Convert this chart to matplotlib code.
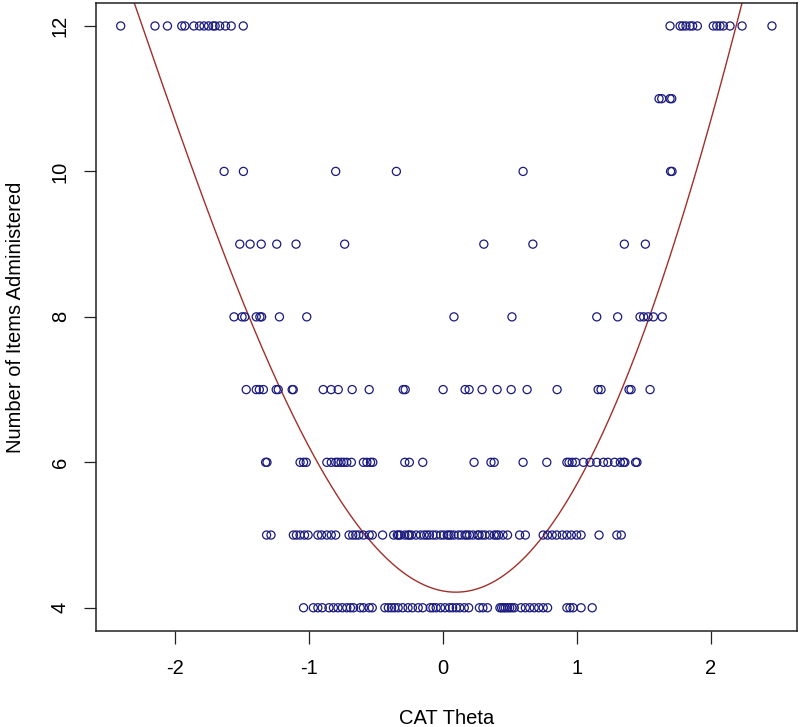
import numpy as np
import matplotlib
matplotlib.use("Agg")
import matplotlib.pyplot as plt

# CAT theta estimates, grouped by number of items administered
theta_4 = [-1.040, -0.967, -0.933, -0.900, -0.850, -0.817, -0.783, -0.750, -0.717, -0.690,
           -0.667, -0.617, -0.593, -0.550, -0.527, -0.433, -0.407, -0.383, -0.360, -0.334,
           -0.300, -0.260, -0.227, -0.184, -0.150, -0.094, -0.074, -0.050, -0.017, 0.016,
           0.050, 0.073, 0.100, 0.126, 0.160, 0.193, 0.273, 0.299, 0.333, 0.426,
           0.439, 0.453, 0.466, 0.483, 0.499, 0.516, 0.533, 0.583, 0.616, 0.649,
           0.682, 0.716, 0.749, 0.782, 0.926, 0.949, 0.972, 1.032, 1.115]
theta_5 = [-1.316, -1.283, -1.116, -1.093, -1.066, -1.033, -1.006, -0.933, -0.906, -0.866,
           -0.833, -0.800, -0.700, -0.673, -0.650, -0.627, -0.593, -0.550, -0.527, -0.450,
           -0.367, -0.340, -0.317, -0.284, -0.260, -0.234, -0.200, -0.167, -0.140, -0.100,
           -0.074, -0.050, -0.017, 0.006, 0.033, 0.060, 0.083, 0.116, 0.139, 0.166,
           0.199, 0.226, 0.259, 0.293, 0.316, 0.349, 0.383, 0.416, 0.449, 0.483,
           0.573, 0.616, 0.749, 0.782, 0.816, 0.849, 0.892, 0.926, 0.959, 0.999,
           1.032, 1.166, 1.299, 1.332, -0.330, -0.250, -0.120, 0.045, 0.180, 0.270, 0.400]
theta_6 = [-1.323, -1.313, -1.066, -1.040, -1.020, -0.866, -0.833, -0.800, -0.783, -0.760,
           -0.740, -0.717, -0.683, -0.593, -0.567, -0.540, -0.523, -0.284, -0.250, -0.150,
           0.233, 0.359, 0.383, 0.599, 0.776, 0.926, 0.942, 0.966, 0.992, 1.049,
           1.099, 1.149, 1.199, 1.232, 1.282, 1.325, 1.349, 1.359, 1.439, 1.449]
theta_7 = [-1.468, -1.393, -1.370, -1.340, -1.244, -1.229, -1.125, -1.117, -0.893, -0.834,
           -0.781, -0.677, -0.550, -0.296, -0.281, 0.002, 0.166, 0.196, 0.293, 0.405,
           0.510, 0.629, 0.853, 1.159, 1.181, 1.390, 1.405, 1.547]
theta_8 = [-1.559, -1.499, -1.479, -1.393, -1.366, -1.353, -1.220, -1.016, 0.083, 0.516,
           1.149, 1.305, 1.472, 1.499, 1.532, 1.572, 1.638]
theta_9 = [-1.516, -1.439, -1.356, -1.240, -1.096, -0.733, 0.306, 0.672, 1.355, 1.512]
theta_10 = [-1.633, -1.489, -0.800, -0.347, 0.599, 1.700, 1.711]
theta_11 = [1.614, 1.634, 1.696, 1.709]
theta_12 = [-2.405, -2.149, -2.056, -1.949, -1.926, -1.859, -1.816, -1.783, -1.749, -1.716,
            -1.700, -1.666, -1.623, -1.580, -1.490,
            1.696, 1.771, 1.791, 1.815, 1.845, 1.865, 1.900, 2.019, 2.045, 2.069,
            2.094, 2.144, 2.234, 2.457]

# points traced along the fitted (red) curve
curve_x = [-2.31, -2.25, -1.84, -1.61, -1.45, -1.27, -0.98, -0.655, -0.505, -0.343, -0.12,
           0.10, 0.328, 0.577, 0.714, 0.813, 1.114, 1.34, 1.547, 1.666, 1.828, 2.03, 2.21, 2.26]
curve_y = [12.32, 12.0, 10.0, 9.0, 8.0, 7.0, 6.0, 5.0, 4.748, 4.518, 4.336,
           4.27, 4.336, 4.518, 4.748, 5.0, 6.0, 7.0, 8.0, 9.0, 10.0, 11.0, 12.0, 12.32]
curve_w = [1, 1, 1, 1, 1, 1, 1, 1, 2, 3, 4,
           5, 4, 3, 2, 1, 1, 1, 1, 1, 1, 1, 1, 1]

groups = [(4, theta_4), (5, theta_5), (6, theta_6), (7, theta_7), (8, theta_8),
          (9, theta_9), (10, theta_10), (11, theta_11), (12, theta_12)]
theta = np.concatenate([np.array(t) for n, t in groups])
items = np.concatenate([np.full(len(t), n) for n, t in groups])

plt.rcParams['font.family'] = ['Liberation Sans', 'DejaVu Sans']

fig = plt.figure(figsize=(8, 7.27), dpi=100)
ax = fig.add_axes([0.1204, 0.132, 0.8762, 0.8643])

ax.scatter(theta, items, s=34, facecolors='none', edgecolors='#1a1a80', linewidths=0.9, zorder=3)

# smooth curve through the traced points
coef = np.polyfit(curve_x, curve_y, 4, w=curve_w)
xs = np.linspace(-2.4, 2.35, 400)
ax.plot(xs, np.polyval(coef, xs), color='#a0302a', linewidth=1.0, zorder=2)

ax.set_xlim(-2.587, 2.646)
ax.set_ylim(3.68, 12.32)
ax.set_xticks([-2, -1, 0, 1, 2])
ax.set_yticks([4, 6, 8, 10, 12])
ax.set_xticklabels(['-2', '-1', '0', '1', '2'])
ax.set_yticklabels(['4', '6', '8', '10', '12'], rotation=90, va='center')
ax.tick_params(axis='both', length=9, width=0.9, labelsize=14.5, color='#222222')
ax.tick_params(axis='x', pad=11)
ax.tick_params(axis='y', pad=10)

for sp in ax.spines.values():
    sp.set_linewidth(1.1)
    sp.set_color('#222222')

ax.set_xlabel("CAT Theta", fontsize=14.5, va='center')
ax.set_ylabel("Number of Items Administered", fontsize=14.5, va='center')
ax.xaxis.set_label_coords(0.5, -0.1385)
ax.yaxis.set_label_coords(-0.116, 0.5)

fig.savefig("out.png", dpi=100)
